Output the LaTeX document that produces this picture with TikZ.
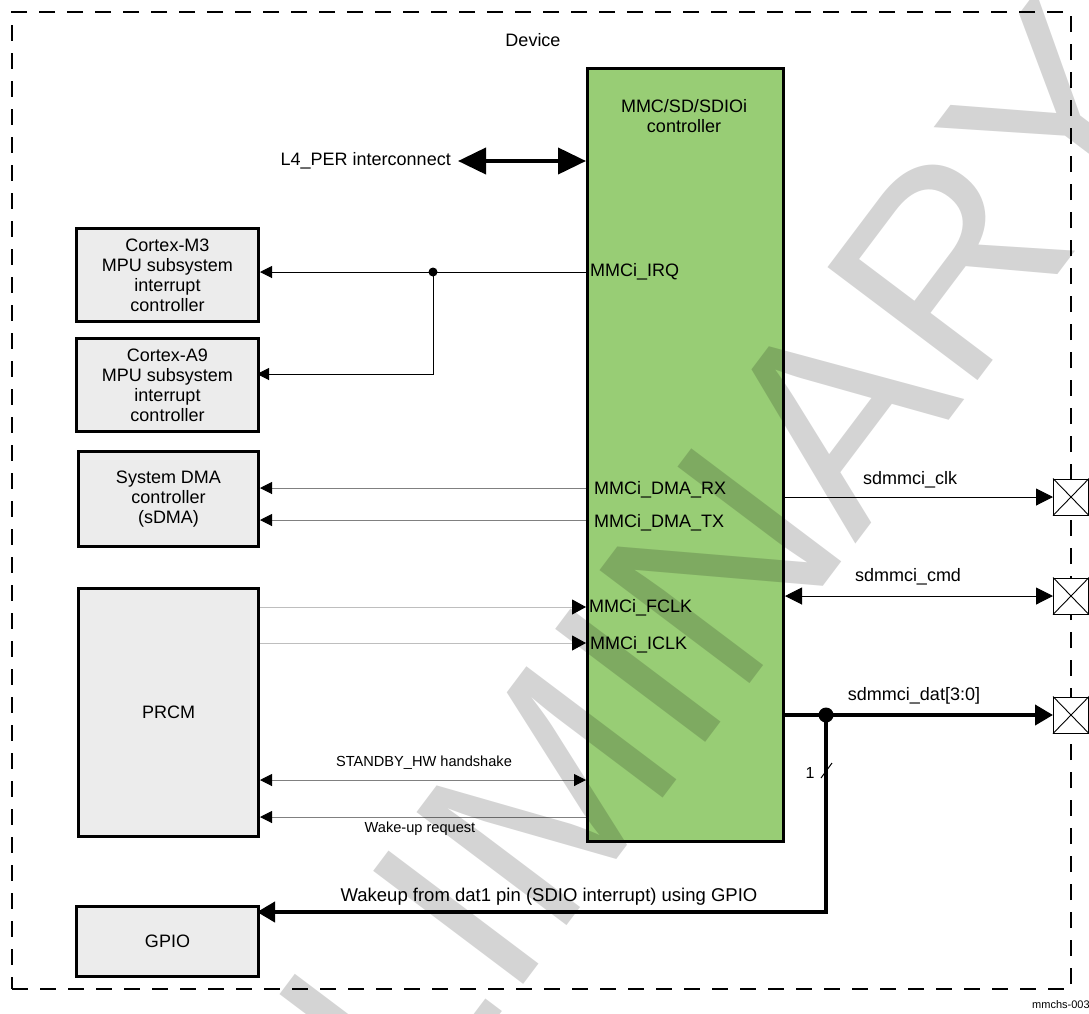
\documentclass[tikz,border=0pt]{standalone}
\usepackage{fontspec}
\setmainfont{Liberation Sans}
\usetikzlibrary{arrows.meta}
\definecolor{ctrlgreen}{RGB}{152,205,117}
\definecolor{boxgray}{RGB}{236,236,236}
\definecolor{sigmid}{RGB}{128,128,128}
\definecolor{siglight}{RGB}{190,190,190}
\begin{document}
\begin{tikzpicture}[x=1pt,y=-1pt,
  blk/.style={draw=black, line width=3pt, fill=boxgray, inner sep=0pt, align=center,
    font=\fontsize{18}{20}\selectfont, anchor=north west},
  lbl/.style={font=\fontsize{18}{20}\selectfont, inner sep=0pt},
  smalllbl/.style={font=\fontsize{14.6}{17}\selectfont, inner sep=0pt},
  thinline/.style={line width=1pt},
  thickline/.style={line width=4pt},
  tipS/.style={-{Triangle[length=12pt,width=12pt,color=black]}},
  tipSS/.style={{Triangle[length=12pt,width=12pt,color=black]}-{Triangle[length=12pt,width=12pt,color=black]}},
  tipM/.style={-{Triangle[length=17pt,width=17pt]}},
  tipMM/.style={{Triangle[length=17pt,width=17pt]}-{Triangle[length=17pt,width=17pt]}},
  tipL/.style={-{Triangle[length=18pt,width=20pt]}},
  padbox/.style={draw=black, line width=1pt, fill=white, minimum width=35pt, minimum height=36pt, inner sep=0pt},
]
\useasboundingbox (0,0) rectangle (1089,1013);
\fill[white] (0,0) rectangle (1089,1013);

% device border
\node[draw=black, line width=2.2pt, dash pattern=on 16pt off 12pt, minimum width=1059pt,
  minimum height=977pt, inner sep=0pt, anchor=north west] (device) at (11,11) {};
\node[lbl] (devlbl) at (533,40) {Device};

% controller
\node[draw=black, line width=3pt, fill=ctrlgreen, minimum width=196pt, minimum height=773pt,
  inner sep=0pt, anchor=north west] (mmc) at (586,67) {};
\node[lbl, align=center] (mmctxt) at (684,116) {MMC/SD/SDIOi\\controller};

% left blocks
\node[blk, minimum width=182pt, minimum height=93pt] (m3) at (75,227) {Cortex-M3\\MPU subsystem\\interrupt\\controller};
\node[blk, minimum width=182pt, minimum height=93pt] (a9) at (75,337) {Cortex-A9\\MPU subsystem\\interrupt\\controller};
\node[blk, minimum width=180pt, minimum height=95pt] (dma) at (77,450) {System DMA\\controller\\(sDMA)};
\node[blk, minimum width=180pt, minimum height=248pt] (prcm) at (77,587) {PRCM};
\node[blk, minimum width=182pt, minimum height=70pt] (gpio) at (75,905) {GPIO};

% pads
\node[padbox] (pad1) at (1071,497) {};
\node[padbox] (pad2) at (1071,596) {};
\node[padbox] (pad3) at (1071,715) {};
\foreach \p in {pad1,pad2,pad3}{
  \draw[line width=0.9pt] (\p.north west) -- (\p.south east) (\p.north east) -- (\p.south west);
}

% L4 interconnect
\coordinate (l4) at (458,161);
\draw[line width=4pt, {Triangle[length=28pt,width=26pt]}-{Triangle[length=28pt,width=26pt]}] (l4) -- (mmc.west |- l4);
\node[lbl, anchor=east] (l4lbl) at (451,161) {L4\_PER interconnect};

% IRQ
\coordinate (irqdot) at (433,272);
\coordinate (a9pin) at (257,374);
\draw[thinline] (mmc.west |- irqdot) -- (irqdot);
\draw[thinline, tipS] (irqdot) -- (m3.east |- irqdot);
\draw[thinline, tipS] (irqdot) |- (a9pin);
\fill (irqdot) circle (4.5pt);
\node[lbl, anchor=west] (irqlbl) at (590,272) {MMCi\_IRQ};

% DMA
\coordinate (rx) at (590,488);
\coordinate (tx) at (590,520);
\draw[thinline, sigmid, tipS] (mmc.west |- rx) -- (dma.east |- rx);
\draw[thinline, sigmid, tipS] (mmc.west |- tx) -- (dma.east |- tx);
\node[lbl, anchor=west] (rxlbl) at (594,490) {MMCi\_DMA\_RX};
\node[lbl, anchor=west] (txlbl) at (594,523) {MMCi\_DMA\_TX};

% clocks
\coordinate (fclk) at (590,607);
\coordinate (iclk) at (590,643);
\draw[thinline, siglight, -{Triangle[length=14pt,width=15pt,color=black]}] (prcm.east |- fclk) -- (mmc.west |- fclk);
\draw[thinline, siglight, -{Triangle[length=14pt,width=15pt,color=black]}] (prcm.east |- iclk) -- (mmc.west |- iclk);
\node[lbl, anchor=west] (fclklbl) at (589,608) {MMCi\_FCLK};
\node[lbl, anchor=west] (iclklbl) at (590,645) {MMCi\_ICLK};

% standby / wake-up
\coordinate (stby) at (400,780);
\coordinate (wake) at (400,817);
\draw[thinline, sigmid, tipSS] (prcm.east |- stby) -- (mmc.west |- stby);
\draw[thinline, sigmid, tipS] (mmc.west |- wake) -- (prcm.east |- wake);
\node[smalllbl] (stbylbl) at (424,763) {STANDBY\_HW handshake};
\node[smalllbl] (wakelbl) at (420,829) {Wake-up request};

% external signals
\draw[thinline, tipM] (mmc.east |- pad1) -- (pad1.west);
\draw[thinline, tipMM] (mmc.east |- pad2) -- (pad2.west);
\coordinate (datdot) at (826,715);
\coordinate (gpin) at (257,912);
\draw[thickline] (mmc.east |- datdot) -- (datdot);
\draw[thickline, tipL] (datdot) -- (pad3.west);
\draw[thickline, tipL] (datdot) |- (gpin);
\fill (datdot) circle (7.5pt);
\node[lbl] (clklbl) at (910,480) {sdmmci\_clk};
\node[lbl] (cmdlbl) at (908,577) {sdmmci\_cmd};
\node[lbl] (datlbl) at (914,696) {sdmmci\_dat[3:0]};
\node[font=\fontsize{16}{18}\selectfont, inner sep=0pt] (onelbl) at (810,773) {1};
\draw[thinline] (821,778) -- (832,763);
\node[font=\fontsize{18.5}{20}\selectfont, inner sep=0pt] (gpiolbl) at (549,897) {Wakeup from dat1 pin (SDIO interrupt) using GPIO};

\node[font=\fontsize{11}{13}\selectfont, inner sep=0pt, anchor=west] (figid) at (1032,1005) {mmchs-003};

% watermark
\begin{scope}
\clip (0,0) rectangle (1089,1013);
\node[rotate=53, anchor=base west, inner sep=0pt, font=\fontsize{273}{273}\selectfont,
  text=black, text opacity=0.17] (wm) at (79,1574) {PRELIMINARY};
\end{scope}
\end{tikzpicture}
\end{document}
